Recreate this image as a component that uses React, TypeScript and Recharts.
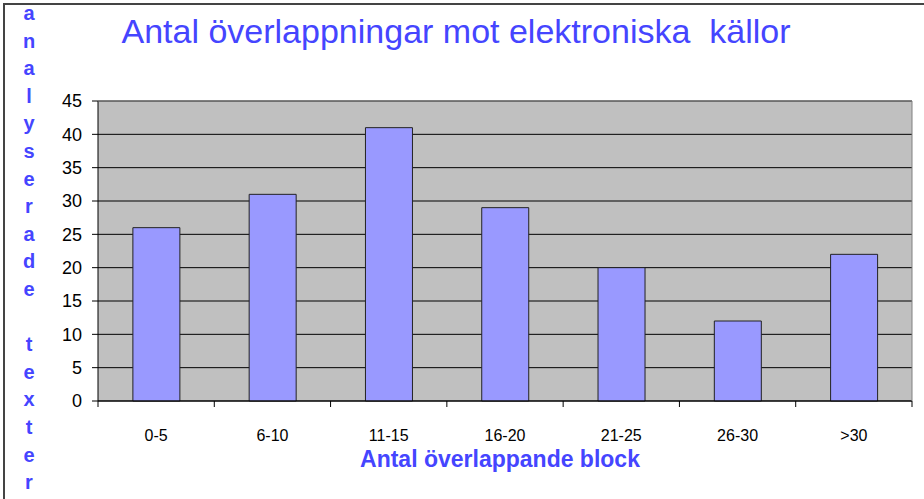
import React from "react";
import {
  BarChart,
  Bar,
  XAxis,
  YAxis,
  CartesianGrid,
} from "recharts";

const categories = ["0-5", "6-10", "11-15", "16-20", "21-25", "26-30", ">30"];
const counts = [26, 31, 41, 29, 20, 12, 22];
const yTicks = [0, 5, 10, 15, 20, 25, 30, 35, 40, 45];

const title = "Antal överlappningar mot elektroniska  källor";
const xTitle = "Antal överlappande block";
const yTitle = "analyserade texter";

const data = categories.map((c, i) => ({ label: c, value: counts[i] }));

const W = 924;
const H = 499;
const plot = { left: 98, top: 101, right: 912, bottom: 401 };
const blue = "#4545FF";
const font = "'Liberation Sans', Arial, sans-serif";

// tick text at the middle, tick mark at the category boundary (Excel style)
function CategoryTick(props: any) {
  const { x, y, payload, index } = props;
  const half = payload?.offset ?? (plot.right - plot.left) / categories.length / 2;
  const top = plot.bottom;
  return (
    <g>
      <line x1={x - half} x2={x - half} y1={top} y2={top + 6} stroke="#000" />
      {index === categories.length - 1 && (
        <line x1={x + half} x2={x + half} y1={top} y2={top + 6} stroke="#000" />
      )}
      <text
        x={x}
        y={y}
        dy="0.71em"
        textAnchor="middle"
        fill="#000"
        fontSize={16}
        fontFamily={font}
      >
        {payload.value}
      </text>
    </g>
  );
}

export default function App() {
  const letters = yTitle.split("");
  return (
    <div
      style={{
        position: "absolute",
        left: 0,
        top: 0,
        width: W,
        height: H,
        background: "#fff",
        overflow: "hidden",
      }}
    >
      <BarChart
        width={W}
        height={H}
        data={data}
        margin={{ top: plot.top, right: W - plot.right, left: 0, bottom: 58 }}
        barCategoryGap="30%"
      >
        <CartesianGrid
          vertical={false}
          stroke="#000"
          fill="#C0C0C0"
          fillOpacity={1}
        />
        <XAxis
          dataKey="label"
          height={H - plot.bottom - 58}
          stroke="#000"
          tickLine={false}
          tickMargin={23}
          tick={<CategoryTick />}
          interval={0}
        />
        <YAxis
          width={plot.left}
          domain={[0, 45]}
          ticks={yTicks}
          interval={0}
          stroke="#000"
          tickSize={6}
          tickMargin={10}
          tick={{ fill: "#000", fontSize: 18, fontFamily: font }}
        />
        <Bar
          dataKey="value"
          fill="#9999FF"
          stroke="#222"
          strokeWidth={1}
          isAnimationActive={false}
        />
      </BarChart>

      <svg
        width={W}
        height={H}
        style={{ position: "absolute", left: 0, top: 0, zIndex: 10, pointerEvents: "none" }}
      >
        {/* outer frame, top and left */}
        <path d={`M4 ${H} L4 4 L${W} 4`} fill="none" stroke="#444" strokeWidth={2} />
        {/* plot frame, top and right */}
        <line x1={plot.left} x2={plot.right} y1={plot.top} y2={plot.top} stroke="#808080" />
        <line x1={plot.right} x2={plot.right} y1={plot.top} y2={plot.bottom} stroke="#808080" />

        <text
          x={456}
          y={43}
          textAnchor="middle"
          fill={blue}
          fontSize={34}
          fontFamily={font}
          style={{ whiteSpace: "pre" }}
        >
          {title}
        </text>

        <text
          x={500}
          y={467}
          textAnchor="middle"
          fill={blue}
          fontSize={23}
          fontWeight="bold"
          fontFamily={font}
        >
          {xTitle}
        </text>

        {letters.map((ch, i) => (
          <text
            key={i}
            x={29}
            y={20 + i * 27.6}
            fill={blue}
            fontSize={20}
            fontWeight="bold"
            fontFamily={font}
            textAnchor="middle"
          >
            {ch}
          </text>
        ))}
      </svg>
    </div>
  );
}
